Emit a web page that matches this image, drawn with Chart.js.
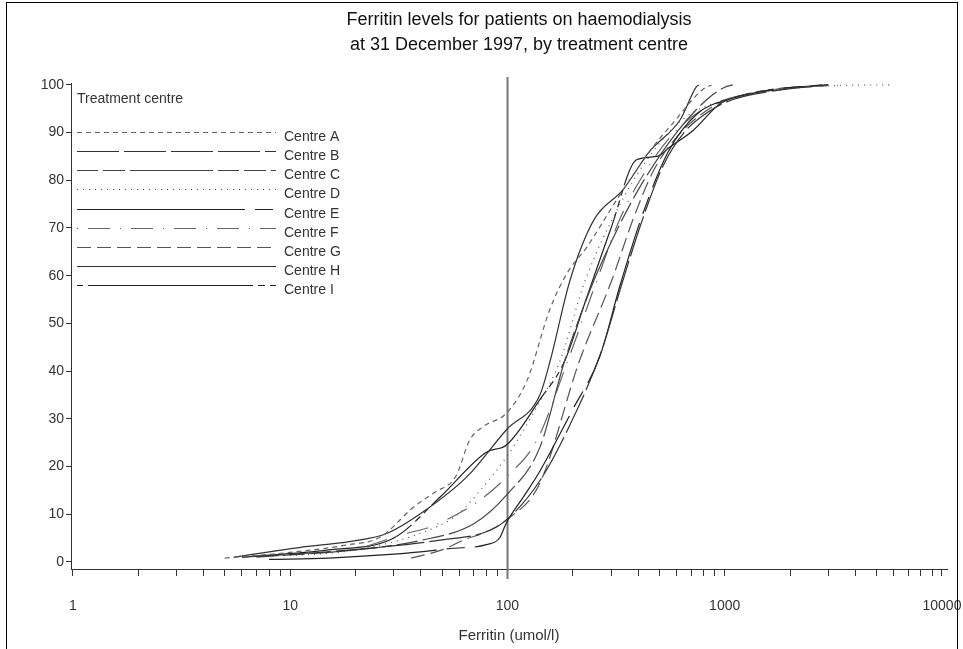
<!DOCTYPE html>
<html>
<head>
<meta charset="utf-8">
<title>Ferritin levels by treatment centre</title>
<script src="https://cdn.jsdelivr.net/npm/chart.js@4.4.1/dist/chart.umd.min.js"></script>
<style>
  html, body { margin: 0; padding: 0; background: #fff; }
  canvas { display: block; }
</style>
</head>
<body>
<canvas id="ferritinChart" width="963" height="649"></canvas>
<script>
// cumulative % of patients vs ferritin, [ferritin, percent]
const centreA = [[5,0.8],[10,2],[18,3.5],[26,5.2],[37,11.5],[46,14.5],[58,18],[67,25.5],[77,28.3],[99,31.2],[123,38],[157,53],[188,60.5],[232,66],[330,77],[468,87],[578,92],[790,99],[870,100]];
const centreB = [[6,1],[12,1.8],[25,3],[50,4.6],[80,6.3],[99,8.8],[141,17],[200,30],[270,44],[340,59],[420,72],[520,83],[650,90],[850,94.5],[1100,97],[1600,98.6],[2400,99.6],[3000,100]];
const centreC = [[7,1],[20,2.5],[40,4.5],[70,8],[99,14],[141,24],[183,42],[240,57],[300,67],[400,78],[600,90],[826,96.9],[1000,99.5],[1090,100]];
const centreD = [[6,1],[20,2.5],[47,7.3],[60,10.2],[75,15],[99,22],[131,31],[174,42],[228,59],[330,75],[450,85],[650,93],[1000,96.8],[2000,99.2],[3500,99.9],[5800,100]];
const centreE = [[8,0.5],[15,0.8],[30,1.6],[55,2.8],[80,3.6],[92,5],[99,8.2],[120,14],[141,19],[200,32],[266,43],[330,58],[420,73],[550,86],[750,94],[1050,97],[1800,99.2],[2800,100]];
const centreF = [[20,2.5],[34.5,6],[44,7.3],[75,13],[99,17.8],[137,25.6],[189,42],[258,59],[330,72],[420,81],[560,89],[800,95],[1200,97.8],[2000,99.3],[3500,100]];
const centreG = [[36,0.8],[50,2.5],[63,4.6],[80,6.3],[99,8.8],[141,16.5],[214,42],[302,59],[380,72],[470,82],[600,89],[850,95],[1200,97.8],[2000,99.5]];
const centreH = [[5.5,1],[11,3],[19,4.3],[28,6],[44,11.5],[65,17.8],[99,27.7],[141,35],[157,42],[194,59],[250,71.7],[340,78],[450,86],[624,92.7],[740,99.6],[760,100]];
const centreI = [[6,1],[15,2.5],[30,5],[49,13.6],[80,23],[99,24.5],[141,34],[183,42],[230,55],[300,70],[393,84.3],[488,85],[560,87],[718,90.5],[950,96],[1400,98.5],[2200,99.6],[3000,100]];

const centreNames = ["Centre A", "Centre B", "Centre C", "Centre D", "Centre E", "Centre F", "Centre G", "Centre H", "Centre I"];
const centreData = [centreA, centreB, centreC, centreD, centreE, centreF, centreG, centreH, centreI];
const lineColors = ["#666", "#333", "#444", "#555", "#222", "#666", "#555", "#333", "#222"];
const lineDashes = [[5,4], [42,5], [21,5,22,5,83,5], [1,5], [168,10,18,10], [1,10,22,10], [14,6], [], [6,5,165,5,7,5]];

const xTickValues = [];
[1, 10, 100, 1000].forEach((d) => {
  for (let m = 1; m < 10; m++) xTickValues.push(d * m);
});
xTickValues.push(10000);
const yTickValues = [0, 10, 20, 30, 40, 50, 60, 70, 80, 90, 100];

const titleLines = ["Ferritin levels for patients on haemodialysis", "at 31 December 1997, by treatment centre"];
const FONT = "'Liberation Sans', Arial, sans-serif";

// frame, title, reference line at 100 and the legend drawn by hand
const extras = {
  id: "extras",
  beforeDatasetsDraw(chart) {
    const ctx = chart.ctx;
    const x = Math.round(chart.scales.x.getPixelForValue(100)) + 0.5;
    ctx.save();
    ctx.strokeStyle = "#777";
    ctx.lineWidth = 2;
    ctx.beginPath();
    ctx.moveTo(x, chart.chartArea.top - 6);
    ctx.lineTo(x, chart.chartArea.bottom + 10);
    ctx.stroke();
    ctx.restore();
  },
  afterDraw(chart) {
    const ctx = chart.ctx;
    ctx.save();
    ctx.strokeStyle = "#000";
    ctx.lineWidth = 1;
    ctx.strokeRect(6.5, 2.5, 951, 700);

    ctx.fillStyle = "#111";
    ctx.font = "18px " + FONT;
    ctx.textAlign = "center";
    ctx.textBaseline = "middle";
    ctx.fillText(titleLines[0], 519, 20);
    ctx.fillText(titleLines[1], 519, 45);

    ctx.textAlign = "left";
    ctx.font = "14px " + FONT;
    ctx.fillStyle = "#333";
    ctx.fillText("Treatment centre", 77, 99);
    chart.data.datasets.forEach((ds, i) => {
      const y = Math.round(131.7 + i * 19.2) + 0.5;
      ctx.strokeStyle = ds.borderColor;
      ctx.lineWidth = 1.2;
      ctx.setLineDash(ds.borderDash);
      ctx.beginPath();
      ctx.moveTo(77, y);
      ctx.lineTo(276, y);
      ctx.stroke();
      ctx.setLineDash([]);
      ctx.fillStyle = "#333";
      ctx.fillText(ds.label, 284, y + 5);
    });
    ctx.restore();
  },
};

const ctx = document.getElementById("ferritinChart").getContext("2d");
new Chart(ctx, {
  type: "line",
  data: {
    datasets: centreData.map((pts, i) => ({
      label: centreNames[i],
      data: pts.map((p) => ({ x: p[0], y: p[1] })),
      borderColor: lineColors[i],
      borderDash: lineDashes[i],
      borderWidth: 1.2,
      pointRadius: 0,
      fill: false,
      cubicInterpolationMode: "monotone",
    })),
  },
  options: {
    responsive: false,
    animation: false,
    devicePixelRatio: 1,
    layout: { padding: { top: 83, right: 16, left: 0, bottom: 0 } },
    plugins: {
      legend: { display: false },
      title: { display: false },
      tooltip: { enabled: false },
    },
    scales: {
      x: {
        type: "logarithmic",
        min: 0.98,
        max: 10550,
        afterBuildTicks: (scale) => {
          scale.ticks = xTickValues.map((v) => ({ value: v }));
        },
        afterFit: (scale) => {
          scale.height = 80;
          scale.paddingRight = 0;
          scale.paddingLeft = 0;
        },
        grid: { drawOnChartArea: false, drawTicks: true, tickLength: 7, color: "#333" },
        border: { display: true, color: "#333", width: 1 },
        ticks: {
          autoSkip: false,
          maxRotation: 0,
          padding: 22,
          color: "#333",
          font: { family: FONT, size: 14 },
          callback: (value) => {
            const l = Math.log10(value);
            return Math.abs(l - Math.round(l)) < 1e-9 ? String(value) : "";
          },
        },
        title: {
          display: true,
          text: "Ferritin (umol/l)",
          color: "#333",
          font: { family: FONT, size: 15 },
          padding: { top: 0, bottom: 4 },
        },
      },
      y: {
        min: -1.5,
        max: 100.4,
        afterBuildTicks: (scale) => {
          scale.ticks = yTickValues.map((v) => ({ value: v }));
        },
        afterFit: (scale) => {
          scale.width = 71;
        },
        grid: { drawOnChartArea: false, drawTicks: true, tickLength: 5, color: "#333" },
        border: { display: true, color: "#333", width: 1 },
        ticks: {
          padding: 2,
          color: "#333",
          font: { family: FONT, size: 14 },
        },
      },
    },
  },
  plugins: [extras],
});
</script>
</body>
</html>
